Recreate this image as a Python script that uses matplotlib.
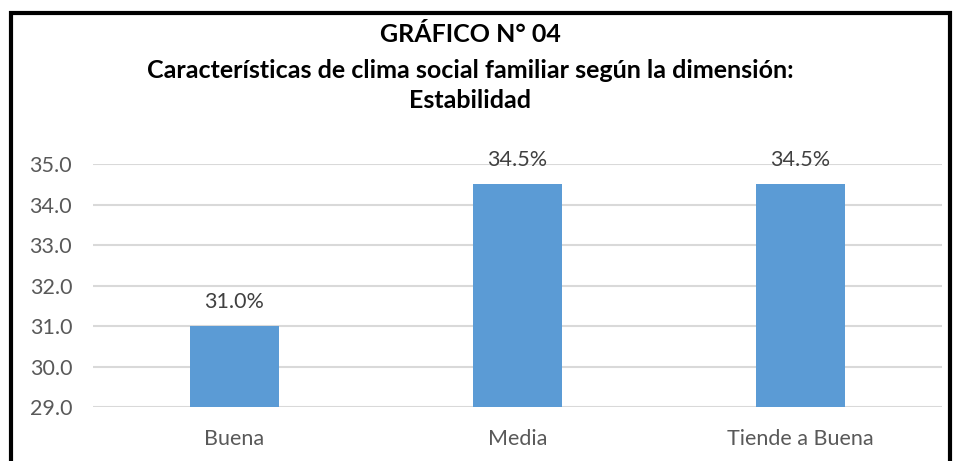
import matplotlib.pyplot as plt
from matplotlib.patches import Rectangle

categorias = ["Buena", "Media", "Tiende a Buena"]
valores = [31.0, 34.5, 34.5]
etiquetas = ["31.0%", "34.5%", "34.5%"]
ticks_y = [29.0, 30.0, 31.0, 32.0, 33.0, 34.0, 35.0]
titulo = ["GRÁFICO N° 04",
          "Características de clima social familiar según la dimensión:",
          "Estabilidad"]

plt.rcParams['font.family'] = ['Lato', 'DejaVu Sans']

fig = plt.figure(figsize=(9.57, 4.61), dpi=100)
ax = fig.add_axes([93/957, 54/461, 849/957, 243/461])

x = range(len(categorias))
ax.bar(x, [v - 29.0 for v in valores], bottom=29.0, width=0.315,
       color="#5B9BD5", zorder=3)
for i, v in enumerate(valores):
    ax.annotate(etiquetas[i], (i, v), xytext=(0, 10), textcoords="offset points",
                ha="center", va="bottom", fontsize=15.5, color="#404040",
                annotation_clip=False)

ax.set_xlim(-0.5, 2.5)
ax.set_ylim(29.0, 35.0)
ax.set_yticks(ticks_y)
ax.set_yticklabels([f"{t:.1f}" for t in ticks_y])
ax.set_xticks(list(x))
ax.set_xticklabels(categorias)
ax.grid(axis="y", color="#D9D9D9", lw=1.5, zorder=0)
ax.tick_params(axis="both", length=0, labelsize=15.5, labelcolor="#595959")
ax.tick_params(axis="x", pad=16)
ax.tick_params(axis="y", pad=15)
for s in ax.spines.values():
    s.set_visible(False)

ys = [35, 70, 101]
for t, yy in zip(titulo, ys):
    fig.text(470/957, 1 - yy/461, t, ha="center", va="center",
             fontsize=18, fontweight="bold", color="black")

fig.patches.append(Rectangle((11/957, -0.05), 939/957, 1.05 - 13/461,
                             transform=fig.transFigure, fill=False,
                             lw=3, edgecolor="black"))

fig.savefig("out.png", dpi=100)
